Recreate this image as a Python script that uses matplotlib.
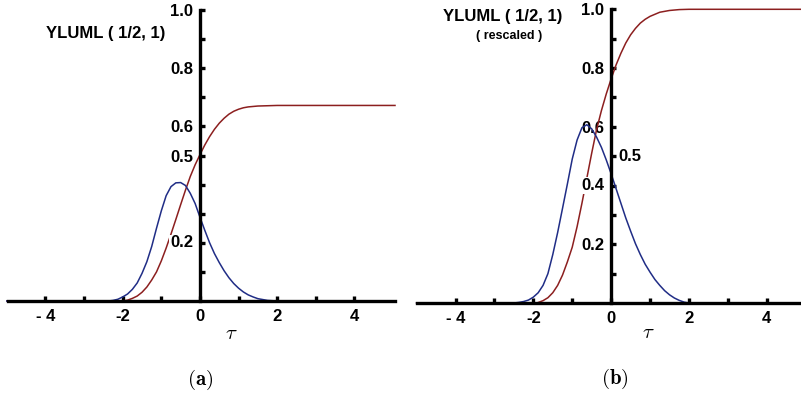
import matplotlib

matplotlib.use("Agg")
import matplotlib.pyplot as plt
from matplotlib.transforms import offset_copy

plt.rcParams["font.family"] = ["Liberation Sans", "DejaVu Sans"]
plt.rcParams["font.weight"] = "bold"
plt.rcParams["mathtext.fontset"] = "cm"

RED = "#8c1f1f"
BLUE = "#202d86"

# ---- panel (a): YLUML(1/2, 1)
tau_a_cdf = [-5.0, -2.0, -1.875, -1.75, -1.625, -1.5, -1.375, -1.25, -1.125, -1.0,
             -0.875, -0.75, -0.625, -0.5, -0.375, -0.25, -0.125, 0.0, 0.125, 0.25,
             0.375, 0.5, 0.625, 0.75, 0.875, 1.0, 1.125, 1.25, 1.5, 1.75, 2.0, 5.05]
cdf_a = [0.0, 0.0, 0.003, 0.009, 0.017, 0.030, 0.048, 0.072, 0.100, 0.138,
         0.182, 0.230, 0.280, 0.331, 0.381, 0.428, 0.468, 0.503, 0.536, 0.565,
         0.590, 0.611, 0.628, 0.642, 0.652, 0.659, 0.664, 0.667, 0.670, 0.671, 0.672, 0.672]

tau_a_pdf = [-5.0, -2.375, -2.25, -2.125, -2.0, -1.875, -1.75, -1.625, -1.5, -1.375,
             -1.25, -1.125, -1.0, -0.875, -0.75, -0.625, -0.5, -0.375, -0.25, -0.125,
             0.0, 0.125, 0.25, 0.375, 0.5, 0.625, 0.75, 0.875, 1.0, 1.125,
             1.25, 1.375, 1.5, 1.625, 1.75, 1.875, 2.0, 5.05]
pdf_a = [0.0, 0.0, 0.002, 0.006, 0.014, 0.024, 0.040, 0.062, 0.095, 0.135,
         0.187, 0.250, 0.310, 0.362, 0.393, 0.406, 0.407, 0.397, 0.370, 0.335,
         0.288, 0.243, 0.200, 0.163, 0.132, 0.104, 0.080, 0.060, 0.044, 0.031,
         0.021, 0.014, 0.008, 0.005, 0.002, 0.001, 0.0, 0.0]

# ---- panel (b): same pair, rescaled
tau_b_cdf = [-5.0, -1.91, -1.75, -1.625, -1.5, -1.375, -1.25, -1.125, -1.0,
             -0.875, -0.75, -0.625, -0.5, -0.375, -0.25, -0.125, 0.0, 0.125, 0.25,
             0.375, 0.5, 0.625, 0.75, 0.875, 1.0, 1.25, 1.5, 1.75, 2.0, 4.9]
cdf_b = [0.0, 0.0, 0.008, 0.018, 0.035, 0.060, 0.095, 0.140, 0.190,
         0.260, 0.340, 0.425, 0.510, 0.590, 0.655, 0.712, 0.763, 0.810, 0.850,
         0.885, 0.913, 0.935, 0.953, 0.966, 0.976, 0.990, 0.996, 0.999, 1.0, 1.0]

tau_b_pdf = [-5.0, -2.5, -2.375, -2.25, -2.125, -2.0, -1.875, -1.75, -1.625, -1.5,
             -1.375, -1.25, -1.125, -1.0, -0.875, -0.75, -0.625, -0.5, -0.375, -0.25,
             -0.125, 0.0, 0.125, 0.25, 0.375, 0.5, 0.625, 0.75, 0.875, 1.0,
             1.125, 1.25, 1.375, 1.5, 1.625, 1.75, 1.875, 2.0, 4.9]
pdf_b = [0.0, 0.0, 0.002, 0.005, 0.010, 0.020, 0.035, 0.060, 0.100, 0.165,
         0.240, 0.322, 0.405, 0.490, 0.555, 0.597, 0.607, 0.593, 0.565, 0.530,
         0.487, 0.440, 0.390, 0.340, 0.290, 0.245, 0.202, 0.165, 0.132, 0.105,
         0.080, 0.060, 0.042, 0.028, 0.017, 0.009, 0.003, 0.0, 0.0]

x_ticks = [-4, -3, -2, -1, 0, 1, 2, 3, 4]
x_labels = ["- 4", "", "-2", "", "0", "", "2", "", "4"]
y_ticks = [0.1, 0.2, 0.3, 0.4, 0.5, 0.6, 0.7, 0.8, 0.9, 1.0]
y_labels_a = ["", "", "", "", "0.5", "0.6", "", "0.8", "", "1.0"]
y_labels_b = ["", "0.2", "", "", "", "0.6", "", "0.8", "", "1.0"]

W, H = 801, 398


def make_axes(fig, left_px, right_px, bottom_px, top_px):
    return fig.add_axes([left_px / W, (H - bottom_px) / H,
                         (right_px - left_px) / W, (bottom_px - top_px) / H])


def style_axes(ax, xlim, ylabels):
    ax.set_xlim(*xlim)
    ax.set_ylim(0, 1.0)
    for side in ("top", "right"):
        ax.spines[side].set_visible(False)
    ax.spines["left"].set_position(("data", 0))
    for side in ("left", "bottom"):
        ax.spines[side].set_linewidth(2.4)
        ax.spines[side].set_color("black")
    ax.set_xticks(x_ticks)
    ax.set_xticklabels(x_labels, fontsize=12, fontweight="bold")
    ax.set_yticks(y_ticks)
    ax.set_yticklabels(ylabels, fontsize=12, fontweight="bold")
    ax.tick_params(axis="both", direction="in", length=3.5, width=2.4)
    ax.tick_params(axis="x", pad=6)
    ax.tick_params(axis="y", pad=5)
    ax.patch.set_alpha(0)


def side_label(fig, ax, y, text, right=False):
    dx = 5 if right else -5
    trans = offset_copy(ax.transData, fig=fig, x=dx, y=0, units="points")
    ax.text(0, y, text, transform=trans, fontsize=12, fontweight="bold",
            ha="left" if right else "right", va="center", zorder=4,
            bbox=dict(facecolor="white", edgecolor="none", pad=0.5))


fig = plt.figure(figsize=(W / 100, H / 100), dpi=100)

# panel (a)
ax_a = make_axes(fig, 8, 395, 301, 10)
style_axes(ax_a, (-4.97, 5.05), y_labels_a)
ax_a.plot(tau_a_cdf, cdf_a, color=RED, lw=1.1, clip_on=False)
ax_a.plot(tau_a_pdf, pdf_a, color=BLUE, lw=1.1, clip_on=False)
side_label(fig, ax_a, 0.2, "0.2")
ax_a.text(-2.44, 0.92, "YLUML ( 1/2, 1)", fontsize=12, fontweight="bold",
          ha="center", va="center")
ax_a.text(0.8, -0.11, r"$\tau$", fontsize=15, ha="center", va="center")
ax_a.text(0.0, -0.27, r"$\mathbf{(a)}$", fontsize=15, ha="center", va="center")

# panel (b)
ax_b = make_axes(fig, 417, 801, 303, 9.3)
style_axes(ax_b, (-4.99, 4.88), y_labels_b)
ax_b.plot(tau_b_cdf, cdf_b, color=RED, lw=1.1, clip_on=False)
ax_b.plot(tau_b_pdf, pdf_b, color=BLUE, lw=1.1, clip_on=False)
side_label(fig, ax_b, 0.4, "0.4")
side_label(fig, ax_b, 0.5, "0.5", right=True)
ax_b.text(-2.78, 0.974, "YLUML ( 1/2, 1)", fontsize=12, fontweight="bold",
          ha="center", va="center")
ax_b.text(-2.62, 0.909, "( rescaled )", fontsize=9, fontweight="bold",
          ha="center", va="center")
ax_b.text(0.95, -0.10, r"$\tau$", fontsize=15, ha="center", va="center")
ax_b.text(0.1, -0.26, r"$\mathbf{(b)}$", fontsize=15, ha="center", va="center")

fig.savefig("out.png", dpi=100, facecolor="white")
